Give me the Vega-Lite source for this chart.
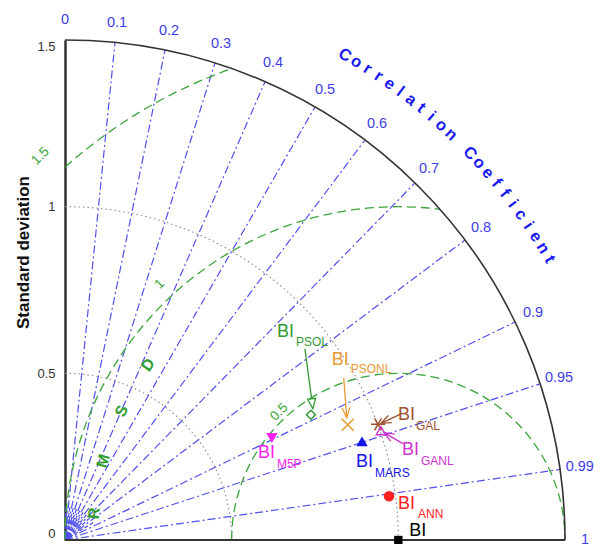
{
  "$schema": "https://vega.github.io/schema/vega-lite/v6.json",
  "width": 538,
  "height": 500,
  "autosize": "none",
  "padding": {"left": 65, "top": 40, "right": 0, "bottom": 4},
  "background": "white",
  "config": {"view": {"stroke": null}, "font": "Liberation Sans"},
  "datasets": {
    "models": [
      {"model": "OBS", "std": 1.0, "corr": 1.0},
      {"model": "ANN", "std": 0.981, "corr": 0.991},
      {"model": "MARS", "std": 0.939, "corr": 0.949},
      {"model": "M5P", "std": 0.692, "corr": 0.897},
      {"model": "GAL", "std": 1.001, "corr": 0.938},
      {"model": "GANL", "std": 1.003, "corr": 0.945},
      {"model": "PSOL", "std": 0.828, "corr": 0.891},
      {"model": "PSONL", "std": 0.916, "corr": 0.926}
    ],
    "corrRays": [
      {"corr": 0.1}, {"corr": 0.2}, {"corr": 0.3}, {"corr": 0.4}, {"corr": 0.5},
      {"corr": 0.6}, {"corr": 0.7}, {"corr": 0.8}, {"corr": 0.9}, {"corr": 0.95}, {"corr": 0.99}
    ],
    "minorRays": [
      {"corr": 0.03}, {"corr": 0.06}, {"corr": 0.15}, {"corr": 0.25}, {"corr": 0.35}, {"corr": 0.45},
      {"corr": 0.55}, {"corr": 0.65}, {"corr": 0.75}, {"corr": 0.85}
    ],
    "corrLabels": [
      {"corr": 0, "label": "0"}, {"corr": 0.1, "label": "0.1"}, {"corr": 0.2, "label": "0.2"},
      {"corr": 0.3, "label": "0.3"}, {"corr": 0.4, "label": "0.4"}, {"corr": 0.5, "label": "0.5"},
      {"corr": 0.6, "label": "0.6"}, {"corr": 0.7, "label": "0.7"}, {"corr": 0.8, "label": "0.8"},
      {"corr": 0.9, "label": "0.9"}, {"corr": 0.95, "label": "0.95"}, {"corr": 0.99, "label": "0.99"},
      {"corr": 1, "label": "1"}
    ],
    "stdArcs": [{"r": 0.5}, {"r": 1.0}],
    "outerArc": [{"r": 1.5}],
    "rmsdArcs": [{"rmsd": 0.5}, {"rmsd": 1.0}, {"rmsd": 1.5}],
    "rmsdLabels": [{"rmsd": 0.5, "label": "0.5"}, {"rmsd": 1.0, "label": "1"}, {"rmsd": 1.5, "label": "1.5"}],
    "titleChars": [
      {"i": 0, "ch": "C"}, {"i": 1, "ch": "o"}, {"i": 2, "ch": "r"}, {"i": 3, "ch": "r"},
      {"i": 4, "ch": "e"}, {"i": 5, "ch": "l"}, {"i": 6, "ch": "a"}, {"i": 7, "ch": "t"},
      {"i": 8, "ch": "i"}, {"i": 9, "ch": "o"}, {"i": 10, "ch": "n"},
      {"i": 12, "ch": "C"}, {"i": 13, "ch": "o"}, {"i": 14, "ch": "e"}, {"i": 15, "ch": "f"},
      {"i": 16, "ch": "f"}, {"i": 17, "ch": "i"}, {"i": 18, "ch": "c"}, {"i": 19, "ch": "i"},
      {"i": 20, "ch": "e"}, {"i": 21, "ch": "n"}, {"i": 22, "ch": "t"}
    ],
    "rmsdChars": [{"k": 0, "ch": "R"}, {"k": 1, "ch": "M"}, {"k": 2, "ch": "S"}, {"k": 3, "ch": "D"}]
  },
  "layer": [
    {
      "data": {"name": "corrRays"},
      "transform": [
        {"calculate": "0", "as": "x"},
        {"calculate": "0", "as": "y"},
        {"calculate": "1.5*datum.corr", "as": "x2"},
        {"calculate": "1.5*sqrt(1-datum.corr*datum.corr)", "as": "y2"}
      ],
      "mark": {"type": "rule", "color": "#5050ee", "strokeWidth": 1.2, "strokeDash": [8, 3, 2, 3]},
      "encoding": {
        "x": {"field": "x", "type": "quantitative", "scale": {"domain": [0, 1.614], "nice": false, "zero": false}, "axis": null},
        "y": {"field": "y", "type": "quantitative", "scale": {"domain": [0, 1.5], "nice": false, "zero": false}},
        "x2": {"field": "x2"},
        "y2": {"field": "y2"}
      }
    },
    {
      "data": {"name": "minorRays"},
      "transform": [
        {"calculate": "0.015*datum.corr", "as": "x"},
        {"calculate": "0.015*sqrt(1-datum.corr*datum.corr)", "as": "y"},
        {"calculate": "0.1*datum.corr", "as": "x2"},
        {"calculate": "0.1*sqrt(1-datum.corr*datum.corr)", "as": "y2"}
      ],
      "mark": {"type": "rule", "color": "#5050ee", "strokeWidth": 1.2, "strokeDash": [4, 2]},
      "encoding": {
        "x": {"field": "x", "type": "quantitative", "scale": {"domain": [0, 1.614], "nice": false, "zero": false}, "axis": null},
        "y": {"field": "y", "type": "quantitative", "scale": {"domain": [0, 1.5], "nice": false, "zero": false}},
        "x2": {"field": "x2"},
        "y2": {"field": "y2"}
      }
    },
    {
      "data": {"name": "stdArcs"},
      "transform": [{"calculate": "0", "as": "x"}, {"calculate": "0", "as": "y"}],
      "mark": {"type": "point", "shape": "M 0 -1 A 1 1 0 0 1 1 0", "filled": false, "opacity": 1, "color": "#8a8a8a", "strokeWidth": 1.1, "strokeDash": [1.5, 3]},
      "encoding": {
        "x": {"field": "x", "type": "quantitative", "scale": {"domain": [0, 1.614], "nice": false, "zero": false}, "axis": null},
        "y": {"field": "y", "type": "quantitative", "scale": {"domain": [0, 1.5], "nice": false, "zero": false}},
        "size": {"field": "r", "type": "quantitative", "scale": {"type": "pow", "exponent": 2, "domain": [0, 1.5], "range": [0, 1000000]}, "legend": null}
      }
    },
    {
      "data": {"name": "rmsdArcs"},
      "transform": [{"filter": "datum.rmsd === 0.5"}, {"calculate": "1", "as": "x"}, {"calculate": "0", "as": "y"}],
      "mark": {"type": "point", "shape": "M -1 0 A 1 1 0 0 1 1 0", "filled": false, "opacity": 1, "color": "#3aa63a", "strokeWidth": 1.3, "strokeDash": [9, 5]},
      "encoding": {
        "x": {"field": "x", "type": "quantitative", "scale": {"domain": [0, 1.614], "nice": false, "zero": false}, "axis": null},
        "y": {"field": "y", "type": "quantitative", "scale": {"domain": [0, 1.5], "nice": false, "zero": false}},
        "size": {"field": "rmsd", "type": "quantitative", "scale": {"type": "pow", "exponent": 2, "domain": [0, 1.5], "range": [0, 1000000]}, "legend": null}
      }
    },
    {
      "data": {"name": "rmsdArcs"},
      "transform": [{"filter": "datum.rmsd === 1"}, {"calculate": "1", "as": "x"}, {"calculate": "0", "as": "y"}],
      "mark": {"type": "point", "shape": "M -1 0 A 1 1 0 0 1 0.125 -0.992", "filled": false, "opacity": 1, "color": "#3aa63a", "strokeWidth": 1.3, "strokeDash": [9, 5]},
      "encoding": {
        "x": {"field": "x", "type": "quantitative", "scale": {"domain": [0, 1.614], "nice": false, "zero": false}, "axis": null},
        "y": {"field": "y", "type": "quantitative", "scale": {"domain": [0, 1.5], "nice": false, "zero": false}},
        "size": {"field": "rmsd", "type": "quantitative", "scale": {"type": "pow", "exponent": 2, "domain": [0, 1.5], "range": [0, 1000000]}, "legend": null}
      }
    },
    {
      "data": {"name": "rmsdArcs"},
      "transform": [{"filter": "datum.rmsd === 1.5"}, {"calculate": "1", "as": "x"}, {"calculate": "0", "as": "y"}],
      "mark": {"type": "point", "shape": "M -0.6667 -0.7454 A 1 1 0 0 1 -0.3333 -0.9428", "filled": false, "opacity": 1, "color": "#3aa63a", "strokeWidth": 1.3, "strokeDash": [9, 5]},
      "encoding": {
        "x": {"field": "x", "type": "quantitative", "scale": {"domain": [0, 1.614], "nice": false, "zero": false}, "axis": null},
        "y": {"field": "y", "type": "quantitative", "scale": {"domain": [0, 1.5], "nice": false, "zero": false}},
        "size": {"field": "rmsd", "type": "quantitative", "scale": {"type": "pow", "exponent": 2, "domain": [0, 1.5], "range": [0, 1000000]}, "legend": null}
      }
    },
    {
      "data": {"name": "outerArc"},
      "transform": [{"calculate": "0", "as": "x"}, {"calculate": "0", "as": "y"}],
      "mark": {"type": "point", "shape": "M 0 -1 A 1 1 0 0 1 1 0", "filled": false, "opacity": 1, "color": "#333333", "strokeWidth": 1.6},
      "encoding": {
        "x": {"field": "x", "type": "quantitative", "scale": {"domain": [0, 1.614], "nice": false, "zero": false}, "axis": null},
        "y": {"field": "y", "type": "quantitative", "scale": {"domain": [0, 1.5], "nice": false, "zero": false}},
        "size": {"field": "r", "type": "quantitative", "scale": {"type": "pow", "exponent": 2, "domain": [0, 1.5], "range": [0, 1000000]}, "legend": null}
      }
    },
    {
      "data": {"name": "outerArc"},
      "transform": [{"calculate": "0", "as": "x"}, {"calculate": "0", "as": "y"}],
      "mark": {"type": "rule", "color": "#333333", "strokeWidth": 2},
      "encoding": {
        "x": {"field": "x", "type": "quantitative", "scale": {"domain": [0, 1.614], "nice": false, "zero": false}, "axis": null},
        "y": {"field": "y", "type": "quantitative", "scale": {"domain": [0, 1.5], "nice": false, "zero": false}},
        "x2": {"field": "r"}
      }
    },
    {
      "data": {"name": "corrLabels"},
      "transform": [
        {"calculate": "1.56*datum.corr", "as": "x"},
        {"calculate": "1.56*sqrt(1-datum.corr*datum.corr)", "as": "y"}
      ],
      "mark": {"type": "text", "align": "center", "baseline": "middle", "fontSize": 14.5, "color": "#3d3de6"},
      "encoding": {
        "x": {"field": "x", "type": "quantitative", "scale": {"domain": [0, 1.614], "nice": false, "zero": false}, "axis": null},
        "y": {"field": "y", "type": "quantitative", "scale": {"domain": [0, 1.5], "nice": false, "zero": false}},
        "text": {"field": "label"}
      }
    },
    {
      "data": {"name": "titleChars"},
      "transform": [
        {"calculate": "(60 - 1.36*datum.i)*PI/180", "as": "th"},
        {"calculate": "1.68*cos(datum.th)", "as": "x"},
        {"calculate": "1.68*sin(datum.th)", "as": "y"},
        {"calculate": "30 + 1.36*datum.i", "as": "rot"}
      ],
      "mark": {"type": "text", "align": "center", "baseline": "middle", "fontSize": 16.5, "fontWeight": "bold", "color": "#1a1aee"},
      "encoding": {
        "x": {"field": "x", "type": "quantitative", "scale": {"domain": [0, 1.614], "nice": false, "zero": false}, "axis": null},
        "y": {"field": "y", "type": "quantitative", "scale": {"domain": [0, 1.5], "nice": false, "zero": false}},
        "text": {"field": "ch"},
        "angle": {"field": "rot", "type": "quantitative", "scale": null}
      }
    },
    {
      "data": {"name": "rmsdLabels"},
      "transform": [
        {"calculate": "133*PI/180", "as": "phi"},
        {"calculate": "1 + 1.05*datum.rmsd*cos(datum.phi)", "as": "x"},
        {"calculate": "1.05*datum.rmsd*sin(datum.phi)", "as": "y"},
        {"calculate": "-45", "as": "rot"}
      ],
      "mark": {"type": "text", "align": "center", "baseline": "middle", "fontSize": 13.5, "color": "#3aa63a"},
      "encoding": {
        "x": {"field": "x", "type": "quantitative", "scale": {"domain": [0, 1.614], "nice": false, "zero": false}, "axis": null},
        "y": {"field": "y", "type": "quantitative", "scale": {"domain": [0, 1.5], "nice": false, "zero": false}},
        "text": {"field": "label"},
        "angle": {"field": "rot", "type": "quantitative", "scale": null}
      }
    },
    {
      "data": {"name": "rmsdChars"},
      "transform": [
        {"calculate": "(175 - 10*datum.k)*PI/180", "as": "phi"},
        {"calculate": "1 + 0.916*cos(datum.phi)", "as": "x"},
        {"calculate": "0.916*sin(datum.phi)", "as": "y"},
        {"calculate": "-85 + 10*datum.k", "as": "rot"}
      ],
      "mark": {"type": "text", "align": "center", "baseline": "middle", "fontSize": 16, "fontWeight": "bold", "color": "#2e9e2e"},
      "encoding": {
        "x": {"field": "x", "type": "quantitative", "scale": {"domain": [0, 1.614], "nice": false, "zero": false}, "axis": null},
        "y": {"field": "y", "type": "quantitative", "scale": {"domain": [0, 1.5], "nice": false, "zero": false}},
        "text": {"field": "ch"},
        "angle": {"field": "rot", "type": "quantitative", "scale": null}
      }
    },
    {
      "data": {"name": "models"},
      "transform": [
        {"calculate": "datum.std*datum.corr", "as": "x"},
        {"calculate": "datum.std*sqrt(1-datum.corr*datum.corr)", "as": "y"}
      ],
      "encoding": {
        "x": {"field": "x", "type": "quantitative", "scale": {"domain": [0, 1.614], "nice": false, "zero": false}, "axis": null},
        "y": {
          "field": "y", "type": "quantitative",
          "scale": {"domain": [0, 1.5], "nice": false, "zero": false},
          "axis": {
            "values": [0, 0.5, 1, 1.5], "format": "~g", "ticks": false, "grid": false,
            "domainColor": "#333", "domainWidth": 2.5,
            "labelFont": "Liberation Sans", "labelFontSize": 13, "labelColor": "#333", "labelPadding": 10,
            "labelFlush": true,
            "title": "Standard deviation", "titleFont": "Liberation Sans", "titleFontSize": 17,
            "titleFontWeight": "bold", "titleColor": "#111", "titleX": -37, "titleY": 212,
            "titleAngle": 270, "titleAlign": "center", "titleBaseline": "alphabetic"
          }
        }
      },
      "layer": [
        {"transform": [{"filter": "datum.model === 'OBS'"}], "mark": {"type": "point", "shape": "square", "filled": true, "opacity": 1, "color": "#000000", "size": 70}},
        {"transform": [{"filter": "datum.model === 'ANN'"}], "mark": {"type": "point", "shape": "circle", "filled": true, "opacity": 1, "color": "#ff2020", "size": 110}},
        {"transform": [{"filter": "datum.model === 'MARS'"}], "mark": {"type": "point", "shape": "triangle-up", "filled": true, "opacity": 1, "color": "#1414e6", "size": 130}},
        {"transform": [{"filter": "datum.model === 'M5P'"}], "mark": {"type": "point", "shape": "triangle-down", "filled": true, "opacity": 1, "color": "#ff22ee", "size": 130}},
        {"transform": [{"filter": "datum.model === 'GAL'"}], "mark": {"type": "point", "shape": "M -1 0 L 1 0 M -0.5 -0.87 L 0.5 0.87 M -0.5 0.87 L 0.5 -0.87", "filled": false, "opacity": 1, "color": "#a0522d", "strokeWidth": 1.5, "size": 196}},
        {"transform": [{"filter": "datum.model === 'GANL'"}], "mark": {"type": "point", "shape": "triangle-up", "filled": false, "opacity": 1, "color": "#cc33cc", "strokeWidth": 1.4, "size": 90}},
        {"transform": [{"filter": "datum.model === 'PSOL'"}], "mark": {"type": "point", "shape": "diamond", "filled": false, "opacity": 1, "color": "#339933", "strokeWidth": 1.5, "size": 80}},
        {"transform": [{"filter": "datum.model === 'PSONL'"}], "mark": {"type": "point", "shape": "M -1 -1 L 1 1 M -1 1 L 1 -1", "filled": false, "opacity": 1, "color": "#e89a30", "strokeWidth": 1.5, "size": 144}},

        {"transform": [{"filter": "datum.model === 'GAL'"}], "mark": {"type": "point", "shape": "M 22 -10 L 3 -1 M 10.3 -8.9 L 3 -1 L 13.8 -1.7", "filled": false, "opacity": 1, "color": "#a0522d", "strokeWidth": 1.3, "size": 4}},
        {"transform": [{"filter": "datum.model === 'GANL'"}], "mark": {"type": "point", "shape": "M 22 13 L 3 2 M 13.7 3.5 L 3 2 L 9.7 10.5", "filled": false, "opacity": 1, "color": "#cc33cc", "strokeWidth": 1.3, "size": 4}},
        {"transform": [{"filter": "datum.model === 'PSOL'"}], "mark": {"type": "point", "shape": "M -6 -66 L 0.7 -15.9 M -3.3 -15.4 L 2 -6 L 4.6 -16.4 Z", "filled": false, "opacity": 1, "color": "#339933", "strokeWidth": 1.3, "size": 4}},
        {"transform": [{"filter": "datum.model === 'PSONL'"}], "mark": {"type": "point", "shape": "M -4 -47 L -1 -7 M -5.7 -16.7 L -1 -7 L 2.2 -17.3", "filled": false, "opacity": 1, "color": "#e89a30", "strokeWidth": 1.3, "size": 4}},

        {"transform": [{"filter": "datum.model === 'OBS'"}], "mark": {"type": "text", "text": "BI", "align": "left", "baseline": "alphabetic", "dx": 11, "dy": -4, "fontSize": 18, "color": "#000000"}},
        {"transform": [{"filter": "datum.model === 'ANN'"}], "mark": {"type": "text", "text": "BI", "align": "left", "baseline": "alphabetic", "dx": 9, "dy": 13, "fontSize": 18, "color": "#ff2020"}},
        {"transform": [{"filter": "datum.model === 'ANN'"}], "mark": {"type": "text", "align": "left", "baseline": "alphabetic", "dx": 29, "dy": 22, "fontSize": 12, "color": "#ff2020"}, "encoding": {"text": {"field": "model"}}},
        {"transform": [{"filter": "datum.model === 'MARS'"}], "mark": {"type": "text", "text": "BI", "align": "left", "baseline": "alphabetic", "dx": -6, "dy": 26, "fontSize": 18, "color": "#1414e6"}},
        {"transform": [{"filter": "datum.model === 'MARS'"}], "mark": {"type": "text", "align": "left", "baseline": "alphabetic", "dx": 13, "dy": 36, "fontSize": 12, "color": "#1414e6"}, "encoding": {"text": {"field": "model"}}},
        {"transform": [{"filter": "datum.model === 'M5P'"}], "mark": {"type": "text", "text": "BI", "align": "left", "baseline": "alphabetic", "dx": -14, "dy": 20, "fontSize": 18, "color": "#ff22ee"}},
        {"transform": [{"filter": "datum.model === 'M5P'"}], "mark": {"type": "text", "align": "left", "baseline": "alphabetic", "dx": 5, "dy": 30, "fontSize": 12, "color": "#ff22ee"}, "encoding": {"text": {"field": "model"}}},
        {"transform": [{"filter": "datum.model === 'GAL'"}], "mark": {"type": "text", "text": "BI", "align": "left", "baseline": "alphabetic", "dx": 20, "dy": -4, "fontSize": 18, "color": "#a0522d"}},
        {"transform": [{"filter": "datum.model === 'GAL'"}], "mark": {"type": "text", "align": "left", "baseline": "alphabetic", "dx": 38, "dy": 6, "fontSize": 12, "color": "#a0522d"}, "encoding": {"text": {"field": "model"}}},
        {"transform": [{"filter": "datum.model === 'GANL'"}], "mark": {"type": "text", "text": "BI", "align": "left", "baseline": "alphabetic", "dx": 21, "dy": 24, "fontSize": 18, "color": "#cc33cc"}},
        {"transform": [{"filter": "datum.model === 'GANL'"}], "mark": {"type": "text", "align": "left", "baseline": "alphabetic", "dx": 40, "dy": 34, "fontSize": 12, "color": "#cc33cc"}, "encoding": {"text": {"field": "model"}}},
        {"transform": [{"filter": "datum.model === 'PSOL'"}], "mark": {"type": "text", "text": "BI", "align": "left", "baseline": "alphabetic", "dx": -34, "dy": -78, "fontSize": 18, "color": "#339933"}},
        {"transform": [{"filter": "datum.model === 'PSOL'"}], "mark": {"type": "text", "align": "left", "baseline": "alphabetic", "dx": -15, "dy": -69, "fontSize": 12, "color": "#339933"}, "encoding": {"text": {"field": "model"}}},
        {"transform": [{"filter": "datum.model === 'PSONL'"}], "mark": {"type": "text", "text": "BI", "align": "left", "baseline": "alphabetic", "dx": -16, "dy": -60, "fontSize": 18, "color": "#e89a30"}},
        {"transform": [{"filter": "datum.model === 'PSONL'"}], "mark": {"type": "text", "align": "left", "baseline": "alphabetic", "dx": 3, "dy": -52, "fontSize": 12, "color": "#e89a30"}, "encoding": {"text": {"field": "model"}}}
      ]
    }
  ]
}
